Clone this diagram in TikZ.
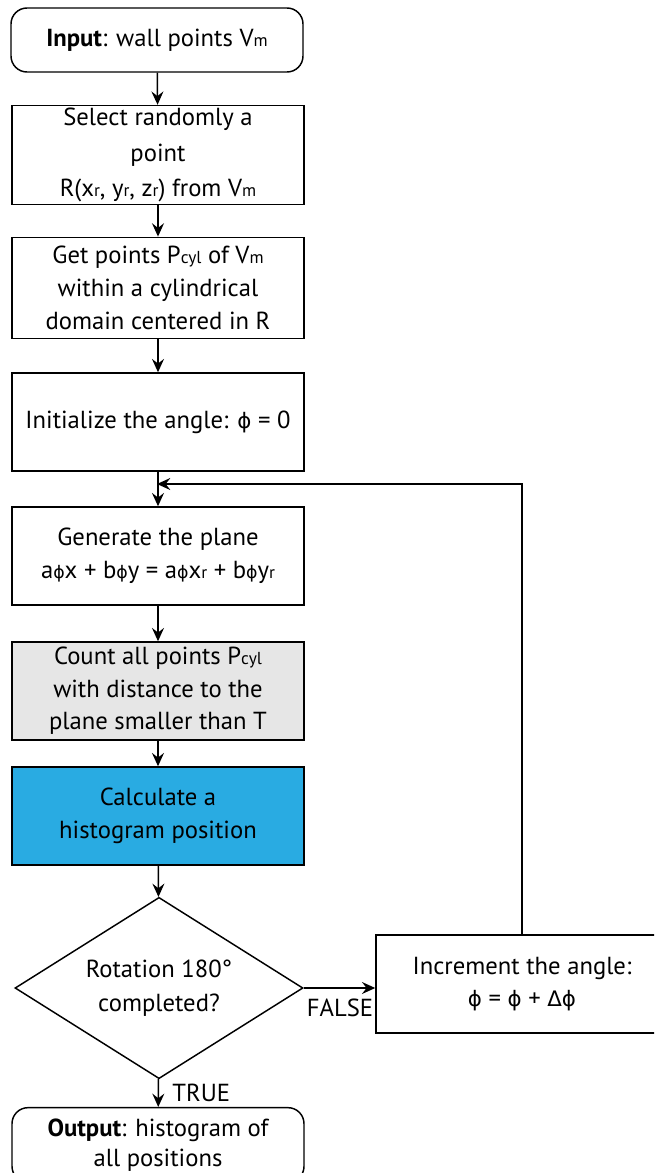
\documentclass[tikz,border=0pt]{standalone}
\usepackage{amsmath}
\usepackage{fontspec}
\setmainfont{PT Sans}
\newfontfamily\greekfont{DejaVu Sans}
\usepackage{xcolor}
\usetikzlibrary{shapes.geometric,arrows.meta,positioning}
\definecolor{hist-blue}{RGB}{41,171,226}
\definecolor{count-grey}{RGB}{230,230,230}
\newcommand{\lowtxt}[1]{{\fontsize{13}{13}\selectfont #1}}
\newcommand{\angsym}{{\greekfont\fontsize{16}{16}\selectfont ϕ}}
\tikzset{
    flow-box/.style = {draw, fill=white, line width=1.1pt, rectangle, minimum width=219pt, minimum height=73.5pt, align=center, inner sep=2pt, font=\fontsize{18.5}{24.5}\selectfont},
    flow-terminal/.style = {flow-box, rounded corners=12pt},
    flow-decision/.style = {draw, fill=white, line width=1.1pt, diamond, aspect=1.6, inner sep=0pt, minimum width=216pt, minimum height=136pt, align=center, font=\fontsize{18.5}{25.5}\selectfont},
    flow-line/.style = {line width=1.1pt, -{Stealth[length=10pt, width=9pt, inset=3.5pt]}},
    flow-label/.style = {font=\fontsize{18.5}{20}\selectfont, inner sep=2pt},
}

\begin{document}
\begin{tikzpicture}[x=0.75pt, y=-0.75pt]
\clip (0,0) rectangle (654,1173);
% main column
\node [flow-terminal, minimum height=48pt] (input) at (157,40) {\textbf{Input}: wall points V\lowtxt{m}};
\node [flow-box] (select) at (158,155) {Select randomly a\\[2pt] point\\[2pt] R(x\lowtxt{r}, y\lowtxt{r}, z\lowtxt{r}) from V\lowtxt{m}};
\node [flow-box, minimum height=76pt] (getpts) at (158,288) {Get points P\lowtxt{cyl} of V\lowtxt{m}\\ within a cylindrical\\ domain centered in R};
\node [flow-box] (init) at (158,422) {Initialize the angle: \angsym{} = 0};
\node [flow-box] (gen) at (158,556) {Generate the plane\\ a\lowtxt{\greekfont ϕ}x + b\lowtxt{\greekfont ϕ}y = a\lowtxt{\greekfont ϕ}x\lowtxt{r} + b\lowtxt{\greekfont ϕ}y\lowtxt{r}};
\node [flow-box, fill=count-grey] (count) at (158,691) {Count all points P\lowtxt{cyl}\\ with distance to the\\ plane smaller than T};
\node [flow-box, fill=hist-blue] (calc) at (158,816) {Calculate a\\ histogram position};
\node [flow-decision] (rot) at (159,988) {Rotation 180°\\ completed?};
\node [flow-box] (incr) at (522,984) {Increment the angle:\\ \angsym{} = \angsym{} + {\greekfont\fontsize{16}{16}\selectfont Δ}\angsym};
\node [flow-terminal, minimum height=56pt, font=\fontsize{18.5}{23}\selectfont] (output) at (158,1145) {\textbf{Output}: histogram of\\ all positions};
% connectors
\draw [flow-line] (input) -- (select);
\draw [flow-line] (select) -- (getpts);
\draw [flow-line] (getpts) -- (init);
\draw [flow-line] (init) -- (gen);
\draw [flow-line] (gen) -- (count);
\draw [flow-line] (count) -- (calc);
\draw [flow-line] (calc) -- (rot);
\draw [flow-line] (rot.east) -- (rot.east -| incr.west) node [flow-label, pos=1, below left, xshift=1pt, yshift=-6pt] {FALSE};
\draw [flow-line] (rot) -- (output) node [flow-label, midway, right, xshift=8pt] {TRUE};
\coordinate (merge) at (157,484);
\draw [flow-line] (incr.north) |- (merge);
\end{tikzpicture}
\end{document}
